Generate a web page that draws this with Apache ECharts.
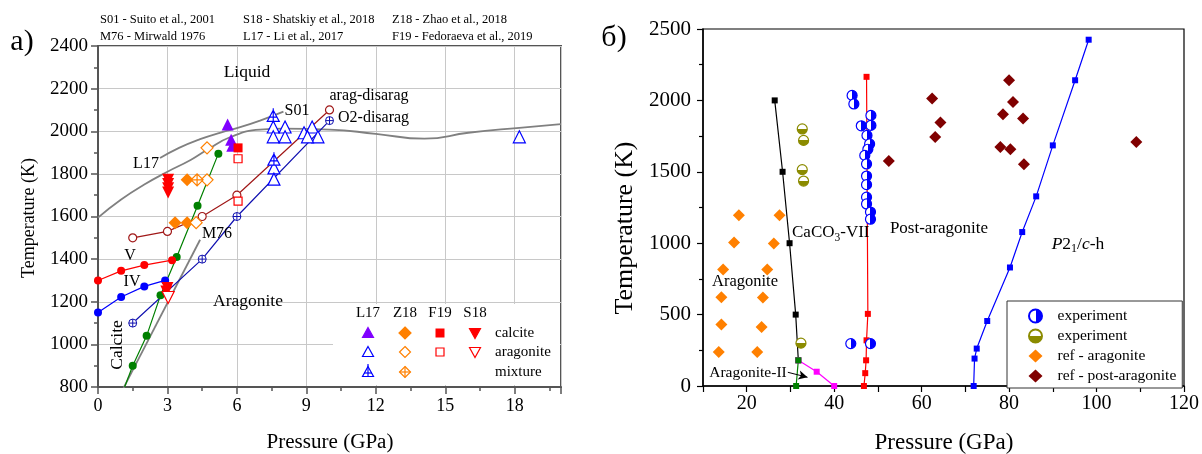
<!DOCTYPE html>
<html><head><meta charset="utf-8">
<script src="https://cdn.jsdelivr.net/npm/echarts@6/dist/echarts.min.js"></script>
<style>html,body{margin:0;padding:0;background:#fff}#c{width:1202px;height:454px}</style>
</head><body><div id="c"></div>
<script>
// ================= panel a) data =================
const meltL17 = [[0,1595],[1,1680],[2,1750],[3,1810],[4,1865],[4.7,1912],[5.7,1972],[7,2008],[8,2012],[10,2008],[12,1988],[14.1,1965],[16,1993],[18.2,2016],[20,2033]];
const meltS01 = [[2.68,1874],[3.5,1922],[4.41,1963],[5.3,1994],[6.14,2019],[7,2050],[8.01,2092]];
const lineM76 = [[1.1,795],[4.41,1491]];
const lineV = [[0,1300],[1,1345],[2,1372],[3.2,1395]];
const lineIV = [[0,1150],[1,1222],[2,1272],[2.9,1300]];
const lineCalArag = [[1.5,900],[2.1,1040],[2.7,1230],[3.4,1410],[4.3,1650],[5.2,1895]];
const lineCalAragExt = [[1.15,800],[1.5,900]];
const lineAragDis = [[1.5,1500],[3,1530],[4.5,1600],[6,1700],[10,2100]];
const lineO2Dis = [[1.5,1100],[4.5,1400],[6,1600],[10,2050]];
const L17calcite = [[5.6,2032],[5.75,1960],[5.8,1932]];
const L17aragonite = [[7.57,2020],[8.08,2020],[7.57,1974],[8.08,1974],[7.6,1828],[7.6,1775],[8.9,1993],[9.25,2020],[9.5,1974],[9.05,1974],[18.2,1974]];
const L17mixture = [[7.57,2077],[7.6,1871]];
const Z18calcite = [[3.85,1772],[3.33,1571],[3.85,1571]];
const Z18aragonite = [[4.71,1922],[4.71,1772],[4.24,1571]];
const Z18mixture = [[4.28,1772]];
const F19calcite = [[6.05,1922]];
const F19aragonite = [[6.05,1871],[6.05,1672]];
const S18calcite = [[3.03,1772],[3.03,1752],[3.03,1732],[3.03,1713],[3.0,1265],[2.95,1248]];
const S18aragonite = [[3.03,1220]];
const refsRow1 = ['S01 - Suito et al., 2001', 'S18 - Shatskiy et al., 2018', 'Z18 - Zhao et al., 2018'];
const refsRow2 = ['M76 - Mirwald 1976', 'L17 - Li et al., 2017', 'F19 - Fedoraeva et al., 2019'];
const legAHeads = ['L17', 'Z18', 'F19', 'S18'];
const legARows = ['calcite', 'aragonite', 'mixture'];

// ================= panel б) data =================
const lineVII = [[26.4,2000],[28.2,1500],[29.8,1000],[31.2,500],[31.8,180]];
const lineAragII = [[31.8,180],[31.3,0]];
const lineMag = [[31.8,180],[36,100],[40,0]];
const linePostArag = [[46.8,0],[47.1,90],[47.3,180],[47.4,320],[47.7,505],[47.4,2165]];
const lineP21c = [[71.9,0],[72.1,192],[72.6,262],[75.0,455],[80.2,830],[83.0,1078],[86.2,1328],[90.0,1685],[95.1,2141],[98.2,2425]];
const expBlue = [[44.1,2035],[44.5,1975],[48.4,1895],[48.4,1825],[46.2,1822],[47.5,1755],[48.1,1695],[47.7,1658],[47.0,1615],[47.4,1555],[47.4,1470],[47.4,1410],[47.4,1322],[47.4,1275],[48.3,1218],[48.3,1168],[43.8,297],[48.3,297]];
const expOlive = [[32.7,1800],[33.0,1720],[32.7,1515],[33.0,1435],[32.4,300]];
const refArag = [[18.2,1195],[27.5,1195],[17.1,1005],[26.2,998],[14.6,815],[24.7,815],[14.2,622],[23.7,620],[14.2,430],[23.4,413],[13.6,238],[22.4,238]];
const refPost = [[52.5,1576],[62.4,2013],[64.3,1845],[63.1,1744],[80.0,2141],[80.9,1989],[78.6,1903],[83.2,1873],[78.0,1674],[80.3,1658],[83.4,1553],[109.1,1709]];
const legBNames = ['experiment', 'experiment\u200b', 'ref - aragonite', 'ref - post-aragonite'];

// ================= helpers =================
const FF = '"Liberation Serif", "Times New Roman", serif';
const cv = document.createElement('canvas').getContext('2d');
function meas(t, size, st) { cv.font = (st || '') + ' ' + size + 'px ' + FF; return cv.measureText(t).width; }
function fitSize(t, w) { return 20 * w / meas(t, 20); }
function txt(t, x, y, size, align, extra) {
  return Object.assign({ type: 'text', x: x, y: y, z: 50, style: { text: t, font: size + 'px ' + FF, fill: '#000', align: align || 'center', verticalAlign: 'middle' } }, extra || {});
}
function partsText(parts, x, y, align) {
  const total = parts.reduce((a, p) => a + meas(p.t, p.s, p.st), 0);
  let cx = align === 'center' ? x - total / 2 : x;
  return parts.map(p => {
    const el = { type: 'text', x: cx, y: y + (p.dy || 0), z: 50, style: { text: p.t, font: (p.st || '') + ' ' + p.s + 'px ' + FF, fill: '#000', align: 'left', verticalAlign: 'middle' } };
    cx += meas(p.t, p.s, p.st);
    return el;
  });
}
const PATH_TRI_X = 'path://M10,0L20,18L0,18Z M10,-3L10,18 M3,11L17,11';
const PATH_DIA_X = 'path://M10,0L20,10L10,20L0,10Z M10,0L10,20 M0,10L20,10';
const PATH_CIR_X = 'path://M0,10A10,10,0,1,1,20,10A10,10,0,1,1,0,10Z M10,0L10,20 M0,10L20,10';

function sc(name, data, symbol, size, fill, stroke, bw, gi, extra) {
  return Object.assign({ type: 'scatter', name: name, xAxisIndex: gi, yAxisIndex: gi, data: data, symbol: symbol, symbolSize: size,
    itemStyle: { color: fill, borderColor: stroke, borderWidth: bw || 0, opacity: 1 }, z: 5, animation: false, silent: true }, extra || {});
}
function ln(name, data, color, symbol, size, gi, extra) {
  return Object.assign({ type: 'line', name: name, xAxisIndex: gi, yAxisIndex: gi, data: data, symbol: symbol, symbolSize: size, showSymbol: symbol !== 'none',
    lineStyle: { color: color, width: 1.2 }, itemStyle: { color: color, borderColor: color, borderWidth: 0 }, z: 3, animation: false, silent: true }, extra || {});
}

const blue = '#0000ff', red = '#ff0000', green = '#008000', orange = '#ff8000', purple = '#8000ff', brown = '#a01818', gray = '#808080', navy = '#1010b0';
const halfBlue = new echarts.graphic.LinearGradient(0, 0, 1, 0, [{ offset: 0, color: '#fff' }, { offset: 0.5, color: '#fff' }, { offset: 0.5, color: blue }, { offset: 1, color: blue }]);
const halfOlive = new echarts.graphic.LinearGradient(0, 0, 0, 1, [{ offset: 0, color: '#fff' }, { offset: 0.5, color: '#fff' }, { offset: 0.5, color: '#8b8b00' }, { offset: 1, color: '#8b8b00' }]);

const series = [
  // panel a lines
  ln('L17melt', meltL17, gray, 'none', 0, 0, { smooth: true, lineStyle: { color: gray, width: 1.8 } }),
  ln('S01melt', meltS01, gray, 'none', 0, 0, { smooth: true, lineStyle: { color: gray, width: 1.8 } }),
  ln('M76', lineM76, gray, 'none', 0, 0, { lineStyle: { color: gray, width: 1.8 } }),
  ln('ext', lineCalAragExt, green, 'none', 0, 0),
  ln('CalArag', lineCalArag, green, 'circle', 8, 0),
  ln('V', lineV, red, 'circle', 8, 0),
  ln('IV', lineIV, blue, 'circle', 8, 0),
  ln('AragDis', lineAragDis, brown, 'circle', 8, 0, { itemStyle: { color: '#fff', borderColor: brown, borderWidth: 1.2 } }),
  ln('O2Dis', lineO2Dis, navy, PATH_CIR_X, 8, 0, { itemStyle: { color: '#fff', borderColor: navy, borderWidth: 1 } }),
  // panel a markers
  sc('L17c', L17calcite, 'triangle', 12, purple, purple, 0, 0),
  sc('L17a', L17aragonite, 'triangle', 12, '#fff', blue, 1.2, 0),
  sc('L17m', L17mixture, PATH_TRI_X, [12, 13], '#fff', blue, 1.2, 0),
  sc('Z18c', Z18calcite, 'diamond', 13, orange, orange, 0, 0),
  sc('Z18a', Z18aragonite, 'diamond', 12, '#fff', orange, 1.2, 0),
  sc('Z18m', Z18mixture, PATH_DIA_X, 12, '#fff', orange, 1.2, 0),
  sc('F19c', F19calcite, 'rect', 9, red, red, 0, 0),
  sc('F19a', F19aragonite, 'rect', 8, '#fff', red, 1.2, 0),
  sc('S18c', S18calcite, 'triangle', 12, red, red, 0, 0, { symbolRotate: 180 }),
  sc('S18a', S18aragonite, 'triangle', 12, '#fff', red, 1.2, 0, { symbolRotate: 180 }),
  // panel b lines
  ln('VII', lineVII, '#000', 'rect', 6, 1),
  ln('Mag', lineMag, '#ff00ff', 'rect', 6, 1),
  ln('AragII', lineAragII, green, 'rect', 6, 1, { markLine: { silent: true, symbol: ['none', 'arrow'], symbolSize: [7, 9], label: { show: false }, lineStyle: { color: '#000', width: 1, type: 'solid' }, data: [[{ coord: [29.4, 96] }, { coord: [33.9, 61] }]], animation: false } }),
  ln('Post', linePostArag, red, 'rect', 6, 1),
  ln('P21c', lineP21c, blue, 'rect', 6, 1),
  // panel b markers
  sc(legBNames[2], refArag, 'diamond', 12, orange, orange, 0, 1),
  sc(legBNames[3], refPost, 'diamond', 12, '#800000', '#800000', 0, 1),
  sc(legBNames[1], expOlive, 'circle', 10, halfOlive, '#8b8b00', 1.2, 1),
  sc(legBNames[0], expBlue, 'circle', 10, halfBlue, blue, 1.2, 1)
];

// ---------- graphics: annotations & table legend ----------
const g = [];
g.push(txt('a)', 22, 42, 30));
g.push(txt('б)', 614, 38, 30));
const refX = [100, 243, 392];
refsRow1.forEach((t, i) => g.push(txt(t, refX[i], 20, 12.5, 'left')));
refsRow2.forEach((t, i) => g.push(txt(t, refX[i], 37, 12.5, 'left')));
g.push(txt('Liquid', 247, 72, 17.5));
g.push(txt('S01', 297, 111, 16));
g.push(txt('L17', 146, 164, 16));
g.push(txt('V', 130, 256, 16));
g.push(txt('IV', 132, 282, 16));
g.push(txt('M76', 217, 234, 16));
g.push(txt('Aragonite', 248, 301, 17.5));
g.push(txt('Calcite', 117, 345, 17.5, 'center', { rotation: Math.PI / 2 }));
g.push(txt('arag-disarag', 369, 96, 16));
g.push(txt('O2-disarag', 338, 118, 16, 'left'));
// axis titles
const tA = 'Temperature (K)', pA = 'Pressure (GPa)';
g.push(txt(tA, 29, 218, fitSize(tA, 120), 'center', { rotation: Math.PI / 2 }));
g.push(txt(pA, 330, 442, fitSize(pA, 127)));
g.push(txt(tA, 625, 228, fitSize(tA, 173), 'center', { rotation: Math.PI / 2 }));
g.push(txt(pA, 944, 443, fitSize(pA, 139)));
// table legend (panel a)
g.push({ type: 'rect', z: 1, shape: { x: 333, y: 304, width: 227, height: 81 }, style: { fill: '#fff' } });
const colX = [368, 405, 440, 475], rowY = [333, 352, 372];
legAHeads.forEach((t, i) => g.push(txt(t, colX[i], 313, 15)));
legARows.forEach((t, i) => g.push(txt(t, 495, rowY[i], 15, 'left')));
function poly(pts, fill, stroke) { return { type: 'polygon', z: 40, shape: { points: pts }, style: { fill: fill, stroke: stroke, lineWidth: 1.2 } }; }
function pl(pts, stroke) { return { type: 'polyline', z: 41, shape: { points: pts }, style: { stroke: stroke, lineWidth: 1.2, fill: null } }; }
function tri(cx, cy, s, fill, stroke) { return poly([[cx, cy - s / 2], [cx + s / 2, cy + s / 2 - 1], [cx - s / 2, cy + s / 2 - 1]], fill, stroke); }
function dtri(cx, cy, s, fill, stroke) { return poly([[cx - s / 2, cy - s / 2 + 1], [cx + s / 2, cy - s / 2 + 1], [cx, cy + s / 2]], fill, stroke); }
function dia(cx, cy, s, fill, stroke) { return poly([[cx, cy - s / 2], [cx + s / 2, cy], [cx, cy + s / 2], [cx - s / 2, cy]], fill, stroke); }
g.push(tri(colX[0], rowY[0], 11, purple, purple));
g.push(tri(colX[0], rowY[1], 11, '#fff', blue));
g.push(tri(colX[0], rowY[2], 11, '#fff', blue), pl([[colX[0], rowY[2] - 8], [colX[0], rowY[2] + 4]], blue), pl([[colX[0] - 4, rowY[2] + 1], [colX[0] + 4, rowY[2] + 1]], blue));
g.push(dia(colX[1], rowY[0], 12, orange, orange));
g.push(dia(colX[1], rowY[1], 11, '#fff', orange));
g.push(dia(colX[1], rowY[2], 11, '#fff', orange), pl([[colX[1], rowY[2] - 5.5], [colX[1], rowY[2] + 5.5]], orange), pl([[colX[1] - 5.5, rowY[2]], [colX[1] + 5.5, rowY[2]]], orange));
g.push({ type: 'rect', z: 40, shape: { x: colX[2] - 4.5, y: rowY[0] - 4.5, width: 9, height: 9 }, style: { fill: red } });
g.push({ type: 'rect', z: 40, shape: { x: colX[2] - 4, y: rowY[1] - 4, width: 8, height: 8 }, style: { fill: '#fff', stroke: red, lineWidth: 1.2 } });
g.push(dtri(colX[3], rowY[0], 11, red, red));
g.push(dtri(colX[3], rowY[1], 11, '#fff', red));
// panel b annotations
g.push(...partsText([{ t: 'CaCO', s: 17 }, { t: '3', s: 11.5, dy: 5 }, { t: '-VII', s: 17 }], 792, 233, 'left'));
g.push(txt('Post-aragonite', 939, 229, 17));
g.push(txt('Aragonite', 745, 282, 16.5));
g.push(txt('Aragonite-II', 748, 373, 15.5));
g.push(...partsText([{ t: 'P', s: 17.5, st: 'italic' }, { t: '2', s: 17.5 }, { t: '1', s: 12, dy: 5 }, { t: '/', s: 17.5 }, { t: 'c', s: 17.5, st: 'italic' }, { t: '-h', s: 17.5 }], 1078, 244, 'center'));

const plain = v => String(v);
const option = {
  animation: false,
  backgroundColor: '#fff',
  grid: [
    { left: 98, top: 46, width: 463, height: 341, show: true, borderColor: '#555', borderWidth: 2, backgroundColor: 'transparent' },
    { left: 703, top: 29, width: 482, height: 357, show: true, borderColor: '#000', borderWidth: 1.2, backgroundColor: 'transparent' }
  ],
  xAxis: [
    { type: 'value', gridIndex: 0, min: 0, max: 20, interval: 3,
      axisLine: { lineStyle: { color: '#555', width: 2 } }, axisTick: { inside: false, length: 7, lineStyle: { color: '#555', width: 1.5 } },
      minorTick: { show: true, splitNumber: 2, length: 4, lineStyle: { color: '#555', width: 1.5 } },
      axisLabel: { margin: 10, showMaxLabel: false, formatter: plain, fontFamily: FF, fontSize: 18, color: '#000' },
      splitLine: { show: true, lineStyle: { color: '#c8c8c8', width: 1 } } },
    { type: 'value', gridIndex: 1, min: 10, max: 120, interval: 10,
      axisLine: { lineStyle: { color: '#000', width: 1.5 } }, axisTick: { inside: false, length: 6, lineStyle: { color: '#000', width: 1.2 } },
      axisLabel: { margin: 8, formatter: v => (v % 20 === 0 ? String(v) : ''), fontFamily: FF, fontSize: 20, color: '#000' },
      splitLine: { show: false } }
  ],
  yAxis: [
    { type: 'value', gridIndex: 0, min: 800, max: 2400, interval: 200,
      axisLine: { lineStyle: { color: '#555', width: 2 } }, axisTick: { inside: false, length: 7, lineStyle: { color: '#555', width: 1.5 } },
      minorTick: { show: true, splitNumber: 2, length: 4, lineStyle: { color: '#555', width: 1.5 } },
      axisLabel: { margin: 10, formatter: plain, fontFamily: FF, fontSize: 19, color: '#000' },
      splitLine: { show: true, lineStyle: { color: '#c8c8c8', width: 1 } } },
    { type: 'value', gridIndex: 1, min: 0, max: 2500, interval: 500,
      axisLine: { lineStyle: { color: '#000', width: 1.5 } }, axisTick: { inside: false, length: 6, lineStyle: { color: '#000', width: 1.2 } },
      minorTick: { show: true, splitNumber: 2, length: 4, lineStyle: { color: '#000', width: 1.2 } },
      axisLabel: { margin: 12, formatter: plain, fontFamily: FF, fontSize: 21, color: '#000' },
      splitLine: { show: false } }
  ],
  legend: {
    data: legBNames, orient: 'vertical', left: 1007, top: 301,
    padding: [7, 6, 4, 21], itemGap: 4, itemWidth: 14, itemHeight: 13,
    backgroundColor: '#fff', borderColor: '#333', borderWidth: 1,
    textStyle: { fontFamily: FF, fontSize: 15.5, color: '#000', lineHeight: 16, padding: [0, 0, 0, 10] },
    selectedMode: false, z: 20
  },
  series: series,
  graphic: { elements: g }
};
const chart = echarts.init(document.getElementById('c'));
chart.setOption(option);
</script></body></html>
